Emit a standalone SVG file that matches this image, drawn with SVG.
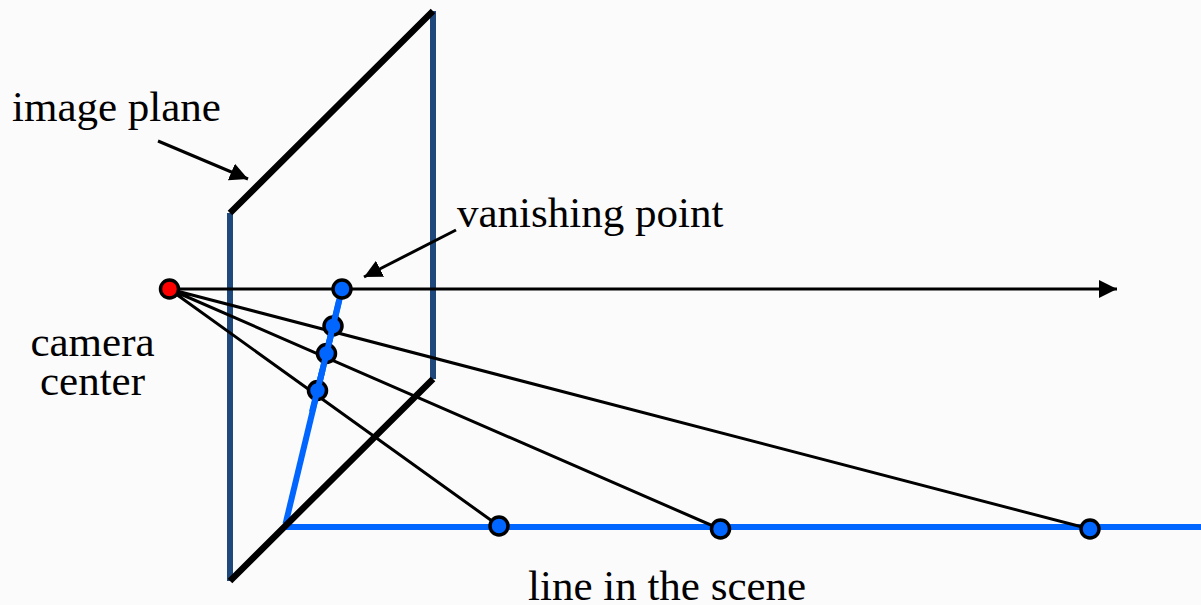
<svg xmlns="http://www.w3.org/2000/svg" width="1201" height="605" viewBox="0 0 1201 605">
<defs><marker id="a" markerUnits="userSpaceOnUse" markerWidth="20" markerHeight="18" refX="18" refY="9" orient="auto"><path d="M0 0L18 9L0 18Z" fill="#000"/></marker></defs>
<style>
text{font-family:"Liberation Serif","Times New Roman",serif;font-size:43px;fill:#000}
.k{stroke:#000;fill:none}
.p{fill:#0066ff;stroke:#000;stroke-width:3.5}
</style>
<rect width="1201" height="605" fill="#fbfbfb"/>
<g id="connectors">
<path d="M285 527H1201" fill="none" stroke="#0066ff" stroke-width="6"/>
<path d="M230 213V581M433 11V379" fill="none" stroke="#1f497d" stroke-width="6"/>
<path d="M285.500 524L342 289" fill="none" stroke="#0066ff" stroke-width="6"/>
<path class="k" stroke-width="6.500" d="M230 213L433 11M230 581L433 379"/>
<path class="k" stroke-width="3" d="M169 289L499 526M169 289L720 529M169 289L1090 529"/>
<path class="k" stroke-width="3" marker-end="url(#a)" d="M169 289H1117"/>
<path class="k" stroke-width="3" marker-end="url(#a)" d="M158 141L248 179"/>
<path class="k" stroke-width="3" marker-end="url(#a)" d="M456 230L364 277"/>
</g>
<g id="camera-center"><circle cx="169.500" cy="289" r="9" fill="#f00" stroke="#000" stroke-width="3.500"/></g>
<g id="image-point-1"><circle class="p" cx="333" cy="326" r="9"/><path d="M326.800 351.500L339.200 300" stroke="#0066ff" stroke-width="6" fill="none"/></g>
<g id="image-point-2"><circle class="p" cx="326.500" cy="353.500" r="9"/><path d="M317.800 389L331 335" stroke="#0066ff" stroke-width="6" fill="none"/></g>
<g id="image-point-3"><circle class="p" cx="317.500" cy="390.500" r="9"/><path d="M312 412L322.500 370" stroke="#0066ff" stroke-width="6" fill="none"/></g>
<g id="scene-point-1"><circle class="p" cx="499" cy="526" r="9"/></g>
<g id="scene-point-2"><circle class="p" cx="720.500" cy="529" r="9"/></g>
<g id="scene-point-3"><circle class="p" cx="1090" cy="529" r="9"/></g>
<g id="vanishing-point"><circle class="p" cx="342" cy="289" r="9"/></g>
<g id="labels">
<text x="12" y="121">image plane</text>
<text x="457" y="227">vanishing point</text>
<text text-anchor="middle"><tspan x="92.500" y="356">camera</tspan><tspan x="92.500" y="395">center</tspan></text>
<text x="528" y="600">line in the scene</text>
</g>
</svg>
